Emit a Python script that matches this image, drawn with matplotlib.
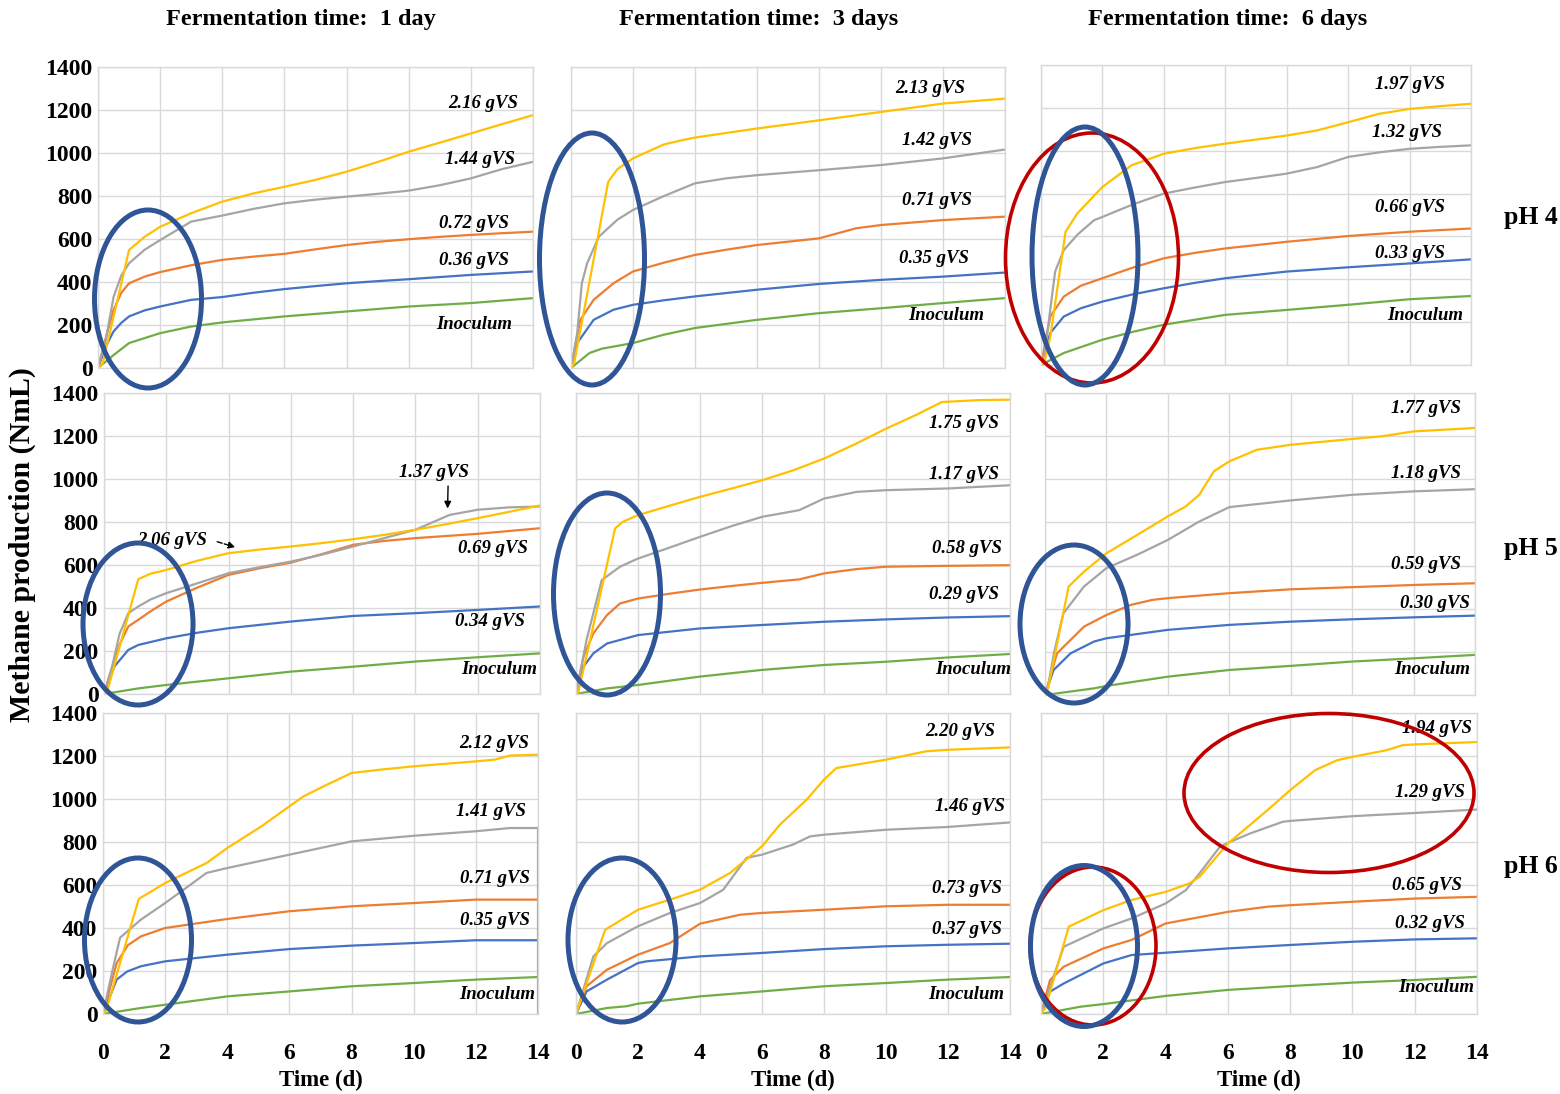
import matplotlib
matplotlib.use("Agg")
import matplotlib.pyplot as plt
from matplotlib.patches import Ellipse

plt.rcParams["font.family"] = ["Liberation Serif", "DejaVu Serif"]
plt.rcParams["font.weight"] = "bold"

# ---- data: (time in d, cumulative methane in NmL) ----
# pH 4, fermentation 1 day
ph4_d1_yellow = [(0, 0), (0.15, 20), (1.0, 549), (1.5, 610), (2, 657), (3, 720), (4, 774), (5, 812), (6, 843),
                 (7, 875), (8, 913), (9, 958), (10, 1006), (11, 1048), (12, 1091), (13, 1134), (14, 1176)]
ph4_d1_gray = [(0, 0), (0.25, 130), (0.5, 330), (0.75, 430), (1, 487), (1.5, 550), (2, 595), (3, 681), (4, 709),
               (5, 740), (6, 766), (7, 783), (8, 797), (9, 810), (10, 825), (11, 850), (12, 882), (13, 925), (14, 959)]
ph4_d1_orange = [(0, 0), (0.25, 140), (0.5, 270), (0.75, 350), (1, 394), (1.5, 425), (2, 446), (3, 478), (4, 503),
                 (5, 518), (6, 531), (7, 552), (8, 572), (9, 587), (10, 599), (11, 610), (12, 619), (13, 627), (14, 634)]
ph4_d1_blue = [(0, 0), (0.25, 100), (0.5, 170), (0.75, 210), (1, 240), (1.5, 268), (2, 286), (3, 317), (4, 330),
               (5, 350), (6, 367), (7, 381), (8, 394), (9, 404), (10, 413), (11, 423), (12, 433), (13, 441), (14, 449)]
ph4_d1_green = [(0, 0), (0.25, 30), (0.5, 60), (1, 116), (2, 162), (3, 193), (4, 212), (6, 240), (8, 263),
                (10, 286), (12, 302), (14, 325)]

# pH 4, fermentation 3 days
ph4_d3_yellow = [(0, 0), (0.1, 20), (1.2, 866), (1.5, 925), (2, 975), (3, 1040), (3.6, 1060), (4, 1072),
                 (6, 1114), (8, 1152), (10, 1191), (12, 1230), (14, 1253)]
ph4_d3_gray = [(0, 0), (0.2, 162), (0.35, 394), (0.52, 487), (0.9, 611), (1.5, 690), (2, 735), (3, 800), (4, 859),
               (5, 882), (6, 897), (8, 920), (10, 944), (12, 975), (14, 1016)]
ph4_d3_orange = [(0, 0), (0.3, 224), (0.73, 317), (1.37, 394), (2, 449), (3, 490), (4, 526), (5, 550), (6, 572),
                 (8, 603), (9.2, 650), (10, 665), (12, 688), (14, 704)]
ph4_d3_blue = [(0, 0), (0.2, 116), (0.73, 224), (1.37, 271), (2, 294), (3, 315), (4, 333), (6, 364), (8, 391),
               (10, 410), (12, 425), (14, 444)]
ph4_d3_green = [(0, 0), (0.6, 70), (1, 90), (2, 116), (3, 155), (4, 186), (6, 224), (8, 255), (10, 278),
                (12, 302), (14, 325)]

# pH 4, fermentation 6 days
ph4_d6_yellow = [(0, 0), (0.13, 25), (0.3, 130), (0.8, 622), (1.18, 707), (2, 831), (2.95, 932), (4, 986),
                 (5, 1012), (6, 1033), (7, 1052), (8, 1071), (9, 1095), (10, 1133), (11, 1172), (12, 1195),
                 (13, 1208), (14, 1219)]
ph4_d6_gray = [(0, 0), (0.1, 40), (0.25, 200), (0.46, 436), (0.74, 536), (1.2, 610), (1.73, 676), (2, 691),
               (3, 750), (4, 800), (5, 828), (6, 854), (7, 873), (8, 893), (9, 924), (10, 971), (11, 992),
               (12, 1009), (13, 1018), (14, 1025)]
ph4_d6_orange = [(0, 0), (0.3, 226), (0.74, 319), (1.3, 370), (2, 405), (3, 455), (4, 498), (5, 523), (6, 544),
                 (8, 575), (10, 602), (12, 622), (14, 637)]
ph4_d6_blue = [(0, 0), (0.3, 149), (0.74, 226), (1.3, 265), (2, 296), (3, 330), (4, 358), (5, 383), (6, 405),
               (8, 436), (10, 456), (12, 474), (14, 493)]
ph4_d6_green = [(0, 0), (0.74, 56), (2, 118), (3, 155), (4, 188), (6, 234), (8, 257), (10, 281), (12, 307),
                (14, 322)]

# pH 5, fermentation 1 day
ph5_d1_yellow = [(0, 0), (0.1, 10), (1.1, 534), (1.5, 560), (2, 577), (3, 620), (4, 655), (5, 672), (6, 686),
                 (7, 702), (8, 720), (9, 740), (10, 764), (11, 790), (12, 818), (13, 847), (14, 877)]
ph5_d1_gray = [(0, 0), (0.25, 120), (0.5, 280), (0.78, 376), (1.1, 407), (1.5, 440), (2, 469), (3, 515), (4, 562),
               (5, 590), (6, 616), (7, 648), (8, 686), (9, 725), (10, 764), (11.1, 833), (12, 857), (13, 868),
               (14, 872)]
ph5_d1_orange = [(0, 0), (0.25, 120), (0.5, 230), (0.78, 314), (1.1, 345), (1.5, 385), (2, 430), (3, 495),
                 (4, 554), (5, 585), (6, 611), (7.1, 655), (8, 694), (9, 712), (10, 725), (12, 745), (14, 771)]
ph5_d1_blue = [(0, 0), (0.33, 127), (0.78, 205), (1.1, 228), (2, 259), (3, 285), (4, 306), (6, 337), (8, 363),
               (10, 376), (12, 391), (14, 407)]
ph5_d1_green = [(0, 0), (1.1, 26), (2, 42), (4, 73), (6, 104), (8, 127), (10, 151), (12, 171), (14, 189)]

# pH 5, fermentation 3 days
ph5_d3_yellow = [(0, 0), (0.08, 10), (1.26, 770), (1.5, 800), (2, 832), (3, 875), (4, 917), (5, 955), (6, 994),
                 (7, 1040), (8, 1095), (9, 1162), (10, 1234), (11, 1300), (11.8, 1358), (13, 1367), (14, 1369)]
ph5_d3_gray = [(0, 0), (0.34, 251), (0.83, 530), (1.42, 592), (2, 630), (3, 680), (4, 731), (5, 780), (6, 824),
               (7.2, 855), (8, 909), (9.05, 940), (10, 948), (12, 956), (14, 971)]
ph5_d3_orange = [(0, 0), (0.24, 173), (0.56, 282), (1, 367), (1.42, 421), (2, 444), (3, 466), (4, 486),
                 (5, 502), (6, 517), (7.2, 533), (8, 561), (9.05, 581), (10, 592), (12, 596), (14, 599)]
ph5_d3_blue = [(0, 0), (0.24, 127), (0.56, 189), (1, 235), (2, 274), (4, 305), (6, 321), (8, 336), (10, 347),
               (12, 356), (14, 362)]
ph5_d3_green = [(0, 0), (1, 26), (2, 42), (4, 81), (6, 112), (8, 135), (10, 150), (12, 170), (14, 186)]

# pH 5, fermentation 6 days
ph5_d6_yellow = [(0, 0), (0.1, 30), (0.77, 503), (1.27, 572), (2, 657), (3, 742), (4, 828), (4.58, 874),
                 (5.02, 928), (5.5, 1037), (6, 1083), (6.9, 1137), (8, 1160), (10, 1187), (11, 1200), (12, 1222),
                 (14, 1238)]
ph5_d6_gray = [(0, 0), (0.1, 40), (0.3, 200), (0.6, 379), (1.27, 503), (2, 588), (3, 650), (4, 719), (5.02, 804),
               (6, 871), (8, 902), (10, 928), (12, 944), (14, 954)]
ph5_d6_orange = [(0, 0), (0.39, 193), (1.27, 317), (2, 371), (2.8, 418), (3.5, 441), (4, 449), (6, 472),
                 (8, 490), (10, 500), (12, 510), (14, 518)]
ph5_d6_blue = [(0, 0), (0.28, 116), (0.83, 193), (1.6, 248), (2, 263), (4, 302), (6, 325), (8, 340), (10, 351),
               (12, 360), (14, 368)]
ph5_d6_green = [(0, 0), (1.6, 31), (2, 42), (4, 85), (6, 116), (8, 135), (10, 155), (12, 170), (14, 186)]

# pH 6, fermentation 1 day
ph6_d1_yellow = [(0, 0), (0.1, 15), (1.15, 535), (2, 609), (3.33, 702), (4, 772), (5.1, 873), (6, 966),
                 (6.45, 1012), (7.1, 1059), (8, 1121), (8.9, 1136), (10, 1152), (12, 1175), (12.6, 1183),
                 (13.1, 1202), (14, 1206)]
ph6_d1_gray = [(0, 0), (0.3, 200), (0.55, 355), (1.22, 439), (2, 516), (2.67, 586), (3.33, 656), (4, 679),
               (6, 741), (8, 803), (10, 829), (12, 850), (13.1, 865), (14, 865), (14, 0)]
ph6_d1_orange = [(0, 0), (0.44, 237), (0.8, 320), (1.22, 361), (2, 400), (4, 442), (6, 478), (8, 501), (10, 516),
                 (12, 532), (14, 532)]
ph6_d1_blue = [(0, 0), (0.44, 160), (0.78, 198), (1.22, 222), (2, 245), (4, 276), (6, 302), (8, 318), (10, 330),
               (12, 343), (14, 343)]
ph6_d1_green = [(0, 0), (1.22, 28), (2, 43), (4, 82), (6, 105), (8, 129), (10, 144), (12, 160), (14, 172)]

# pH 6, fermentation 3 days
ph6_d3_yellow = [(0, 0), (0.94, 392), (2, 485), (3.03, 532), (4, 578), (4.97, 656), (6, 780), (6.58, 881),
                 (7.44, 997), (8, 1090), (8.4, 1144), (10, 1183), (11.3, 1222), (12, 1229), (14, 1240)]
ph6_d3_gray = [(0, 0), (0.56, 268), (1, 330), (2, 408), (3.03, 470), (4, 516), (4.75, 578), (5.5, 726), (6, 741),
               (7, 788), (7.55, 826), (8, 834), (10, 857), (12, 870), (14, 891)]
ph6_d3_orange = [(0, 0), (0.34, 129), (1, 206), (2, 276), (3.03, 330), (4, 420), (5.3, 462), (6, 470), (8, 485),
                 (10, 501), (12, 508), (14, 508)]
ph6_d3_blue = [(0, 0), (0.34, 105), (1, 160), (2, 237), (2.28, 245), (4, 268), (6, 284), (8, 302), (10, 315),
               (12, 322), (14, 327)]
ph6_d3_green = [(0, 0), (1, 28), (1.63, 36), (2, 48), (4, 82), (6, 105), (8, 129), (10, 144), (12, 160), (14, 172)]

# pH 6, fermentation 6 days
ph6_d6_yellow = [(0, 0), (0.15, 30), (0.89, 406), (2, 483), (2.9, 530), (4, 568), (4.76, 607), (5.09, 638),
                 (6, 793), (6.7, 878), (7.27, 948), (8, 1041), (8.8, 1134), (9.5, 1180), (10, 1196),
                 (11.1, 1227), (11.6, 1250), (12, 1254), (14, 1265)]
ph6_d6_gray = [(0, 0), (0.3, 130), (0.73, 313), (2, 398), (2.9, 444), (4, 514), (4.65, 576), (5.09, 654),
               (5.74, 777), (6, 796), (6.7, 839), (7.76, 894), (8, 898), (10, 920), (12, 935), (14, 951)]
ph6_d6_orange = [(0, 0), (0.29, 158), (0.73, 220), (2, 305), (2.9, 344), (4, 421), (6, 475), (7.27, 499),
                 (8, 506), (10, 522), (12, 537), (14, 545)]
ph6_d6_blue = [(0, 0), (0.29, 104), (0.73, 142), (2, 235), (2.9, 274), (4, 285), (6, 305), (8, 321), (10, 336),
               (12, 347), (14, 352)]
ph6_d6_green = [(0, 0), (1.27, 34), (2, 46), (4, 84), (6, 112), (8, 130), (10, 146), (12, 158), (14, 173)]

# series labels (yellow, gray, orange, blue curves)
vs_ph4 = [["2.16 gVS", "1.44 gVS", "0.72 gVS", "0.36 gVS"],
          ["2.13 gVS", "1.42 gVS", "0.71 gVS", "0.35 gVS"],
          ["1.97 gVS", "1.32 gVS", "0.66 gVS", "0.33 gVS"]]
vs_ph5 = [["2.06 gVS", "1.37 gVS", "0.69 gVS", "0.34 gVS"],
          ["1.75 gVS", "1.17 gVS", "0.58 gVS", "0.29 gVS"],
          ["1.77 gVS", "1.18 gVS", "0.59 gVS", "0.30 gVS"]]
vs_ph6 = [["2.12 gVS", "1.41 gVS", "0.71 gVS", "0.35 gVS"],
          ["2.20 gVS", "1.46 gVS", "0.73 gVS", "0.37 gVS"],
          ["1.94 gVS", "1.29 gVS", "0.65 gVS", "0.32 gVS"]]
inoculum_label = "Inoculum"
days = ["1 day", "3 days", "6 days"]
ph_levels = ["pH 4", "pH 5", "pH 6"]

# ---- layout ----
W, H = 1560, 1094
colors = ["#FFC000", "#A5A5A5", "#ED7D31", "#4472C4", "#70AD47"]

grid = [
    [[ph4_d1_yellow, ph4_d1_gray, ph4_d1_orange, ph4_d1_blue, ph4_d1_green],
     [ph4_d3_yellow, ph4_d3_gray, ph4_d3_orange, ph4_d3_blue, ph4_d3_green],
     [ph4_d6_yellow, ph4_d6_gray, ph4_d6_orange, ph4_d6_blue, ph4_d6_green]],
    [[ph5_d1_yellow, ph5_d1_gray, ph5_d1_orange, ph5_d1_blue, ph5_d1_green],
     [ph5_d3_yellow, ph5_d3_gray, ph5_d3_orange, ph5_d3_blue, ph5_d3_green],
     [ph5_d6_yellow, ph5_d6_gray, ph5_d6_orange, ph5_d6_blue, ph5_d6_green]],
    [[ph6_d1_yellow, ph6_d1_gray, ph6_d1_orange, ph6_d1_blue, ph6_d1_green],
     [ph6_d3_yellow, ph6_d3_gray, ph6_d3_orange, ph6_d3_blue, ph6_d3_green],
     [ph6_d6_yellow, ph6_d6_gray, ph6_d6_orange, ph6_d6_blue, ph6_d6_green]],
]
vs_rows = [vs_ph4, vs_ph5, vs_ph6]

# panel boxes in pixels: left, top, right, bottom
boxes = [
    [(98, 67, 533, 368), (571, 67, 1005, 368), (1041, 65, 1471, 365)],
    [(104, 393, 540, 694), (576, 393, 1010, 694), (1045, 393, 1475, 695)],
    [(103, 713, 538, 1014), (576, 713, 1010, 1014), (1041, 713, 1477, 1014)],
]

# label anchor points (data coords) for yellow, gray, orange, blue, inoculum
label_pos = [
    [[(12.4, 1228), (12.3, 972), (12.1, 674), (12.1, 502), (12.1, 200)],
     [(11.6, 1302), (11.8, 1056), (11.8, 777), (11.7, 507), (12.1, 242)],
     [(12.0, 1311), (11.9, 1083), (12.0, 737), (12.0, 518), (12.5, 233)]],
    [[(2.2, 716), (10.6, 1028), (12.5, 679), (12.4, 335), (12.7, 116)],
     [(12.5, 1260), (12.5, 1019), (12.6, 679), (12.5, 465), (12.8, 116)],
     [(12.4, 1326), (12.4, 1029), (12.4, 603), (12.7, 422), (12.6, 120)]],
    [[(12.6, 1260), (12.5, 944), (12.6, 628), (12.6, 433), (12.7, 93)],
     [(12.4, 1316), (12.7, 967), (12.6, 586), (12.6, 395), (12.6, 93)],
     [(12.7, 1330), (12.5, 1028), (12.4, 600), (12.5, 419), (12.7, 121)]],
]

fig = plt.figure(figsize=(W / 100, H / 100), dpi=100)

for r in range(3):
    for c in range(3):
        l, t, rr, b = boxes[r][c]
        ax = fig.add_axes([l / W, 1 - b / H, (rr - l) / W, (b - t) / H])
        series = grid[r][c]
        for k in [4, 3, 2, 1, 0]:
            xs = [p[0] for p in series[k]]
            ys = [p[1] for p in series[k]]
            ax.plot(xs, ys, color=colors[k], lw=1.6, solid_joinstyle="round")
        ax.set_xlim(0, 14)
        ax.set_ylim(0, 1400)
        ax.set_xticks(range(0, 15, 2))
        ax.set_yticks(range(0, 1401, 200))
        ax.grid(True, color="#d9d9d9", lw=1.0)
        ax.set_axisbelow(True)
        for s in ax.spines.values():
            s.set_color("#d9d9d9")
            s.set_linewidth(1.0)
        ax.tick_params(length=0, labelsize=17, pad=4)
        ax.tick_params(axis="x", pad=21)
        if c != 0:
            ax.tick_params(labelleft=False)
        if r != 2:
            ax.tick_params(labelbottom=False)
        else:
            ax.set_xlabel("Time (d)", fontsize=16.5, fontweight="bold", labelpad=4)
        for lab in ax.get_xticklabels() + ax.get_yticklabels():
            lab.set_fontweight("bold")

        texts = vs_rows[r][c] + [inoculum_label]
        for k, txt in enumerate(texts):
            x, y = label_pos[r][c][k]
            ax.text(x, y, txt, ha="center", va="center", fontsize=13.5,
                    fontweight="bold", fontstyle="italic", zorder=5)

        if r == 1 and c == 0:
            ax.annotate("", xy=(11.03, 850), xytext=(11.05, 980),
                        arrowprops=dict(arrowstyle="-|>", color="black", lw=1.0, mutation_scale=10))
            ax.annotate("", xy=(4.3, 679), xytext=(3.55, 712),
                        arrowprops=dict(arrowstyle="-|>", color="black", lw=1.0, ls="--", mutation_scale=10))

# column and row headings
for c, cx in enumerate([301, 759, 1228]):
    fig.text(cx / W, 1 - 19 / H, "Fermentation time:  " + days[c], ha="center", va="center",
             fontsize=17.5, fontweight="bold")
for r, cy in enumerate([217, 548, 866]):
    fig.text(1531 / W, 1 - cy / H, ph_levels[r], ha="center", va="center", fontsize=18.5, fontweight="bold")
fig.text(22 / W, 1 - 545 / H, "Methane production (NmL)", rotation=90, ha="center", va="center",
         fontsize=21.5, fontweight="bold")

# highlight ellipses: centre x, centre y, width, height (pixels)
red_marks = [(1092, 258, 173, 250), (1093, 946, 126, 158), (1329, 793, 290, 159)]
blue_marks = [(148, 299, 107, 178), (592, 259, 105, 252), (1085, 256, 106, 258),
              (138, 624, 110, 162), (607, 594, 107, 202), (1074, 624, 108, 158),
              (138, 940, 107, 164), (622, 940, 108, 164), (1084, 946, 107, 161)]
for cx, cy, w, h in red_marks:
    fig.add_artist(Ellipse((cx / W, 1 - cy / H), w / W, h / H, transform=fig.transFigure,
                           fill=False, ec="#C00000", lw=2.6, zorder=10))
for cx, cy, w, h in blue_marks:
    fig.add_artist(Ellipse((cx / W, 1 - cy / H), w / W, h / H, transform=fig.transFigure,
                           fill=False, ec="#2F5597", lw=3.6, zorder=11))

fig.savefig("out.png", dpi=100)
